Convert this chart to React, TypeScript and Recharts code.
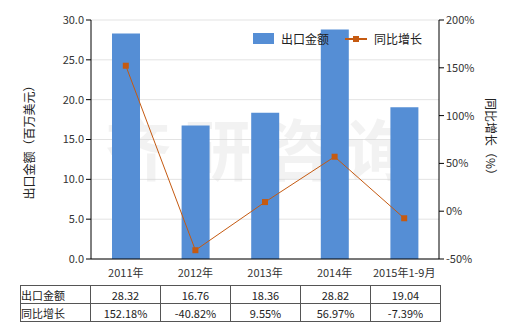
import React from "react";
import {
  ComposedChart,
  Bar,
  Line,
  XAxis,
  YAxis,
  CartesianGrid,
} from "recharts";

const categories = ["2011年", "2012年", "2013年", "2014年", "2015年1-9月"];
const exportValues = [28.32, 16.76, 18.36, 28.82, 19.04];
const growthValues = [152.18, -40.82, 9.55, 56.97, -7.39];
const leftTicks = [0, 5, 10, 15, 20, 25, 30];
const rightTicks = [-50, 0, 50, 100, 150, 200];

const BAR_COLOR = "#558ED5";
const LINE_COLOR = "#C55A11";
const FONT = "'Noto Sans CJK SC', 'Noto Sans', sans-serif";

const data = categories.map((name, i) => ({
  name,
  value: exportValues[i],
  growth: growthValues[i],
}));

function SquareDot(props: any) {
  const { cx, cy } = props;
  if (cx == null || cy == null) return null;
  return <rect x={cx - 3} y={cy - 3} width={6} height={6} fill={LINE_COLOR} />;
}

const tickStyle = { fill: "#333", fontSize: 11, fontFamily: FONT };

export default function App() {
  const cell: React.CSSProperties = {
    border: "1px solid #555",
    padding: 0,
    height: 17,
    fontSize: 11,
    fontFamily: FONT,
    color: "#222",
    textAlign: "center",
    width: 69,
  };
  return (
    <div
      style={{
        position: "absolute",
        left: 0,
        top: 0,
        width: 520,
        height: 330,
        background: "#fff",
        fontFamily: FONT,
      }}
    >
      <ComposedChart
        width={520}
        height={330}
        data={data}
        margin={{ top: 20, right: 0, bottom: 0, left: 0 }}
      >
        <CartesianGrid vertical={false} stroke="#E3E3E3" yAxisId="left" />
        <text
          x={265}
          y={175}
          textAnchor="middle"
          fontSize={66}
          fontWeight="bold"
          fontFamily={FONT}
          fill="#d6d6d6"
          opacity={0.3}
          letterSpacing={14}
        >
          齐研咨询
        </text>
        <XAxis
          dataKey="name"
          height={71}
          tick={{ ...tickStyle, dy: 2 }}
          axisLine={{ stroke: "#000" }}
          tickLine={false}
        />
        <YAxis
          yAxisId="left"
          orientation="left"
          width={91}
          domain={[0, 30]}
          ticks={leftTicks}
          tickFormatter={(v: number) => v.toFixed(1)}
          tick={tickStyle}
          tickSize={5}
          axisLine={{ stroke: "#000" }}
          tickLine={{ stroke: "#000" }}
          label={{
            value: "出口金额（百万美元）",
            angle: -90,
            position: "insideLeft",
            offset: 30,
            style: { fontSize: 12, fill: "#222", fontFamily: FONT, textAnchor: "middle" },
          }}
        />
        <YAxis
          yAxisId="right"
          orientation="right"
          width={81}
          domain={[-50, 200]}
          ticks={rightTicks}
          tickFormatter={(v: number) => `${v}%`}
          tick={tickStyle}
          tickSize={5}
          axisLine={{ stroke: "#000" }}
          tickLine={{ stroke: "#000" }}
          label={{
            value: "同比增长（%）",
            angle: 90,
            position: "insideRight",
            offset: 30,
            style: { fontSize: 12, fill: "#222", fontFamily: FONT, textAnchor: "middle" },
          }}
        />
        <Bar
          yAxisId="left"
          dataKey="value"
          fill={BAR_COLOR}
          barSize={28}
          isAnimationActive={false}
        />
        <Line
          yAxisId="right"
          dataKey="growth"
          stroke={LINE_COLOR}
          strokeWidth={1}
          dot={<SquareDot />}
          activeDot={false}
          isAnimationActive={false}
        />
      </ComposedChart>

      {/* legend */}
      <div
        style={{
          position: "absolute",
          left: 253,
          top: 30,
          display: "flex",
          alignItems: "center",
          fontSize: 12,
          color: "#222",
        }}
      >
        <span style={{ display: "inline-block", width: 21, height: 11, background: BAR_COLOR }} />
        <span style={{ marginLeft: 7 }}>出口金额</span>
        <svg width={24} height={12} style={{ marginLeft: 16 }}>
          <line x1={0} y1={6} x2={22} y2={6} stroke={LINE_COLOR} strokeWidth={2} />
          <rect x={8} y={3} width={6} height={6} fill={LINE_COLOR} />
        </svg>
        <span style={{ marginLeft: 5 }}>同比增长</span>
      </div>

      {/* data table */}
      <table
        style={{
          position: "absolute",
          left: 20,
          top: 285,
          borderCollapse: "collapse",
        }}
      >
        <tbody>
          <tr>
            <td style={{ ...cell, textAlign: "left" }}>出口金额</td>
            {exportValues.map((v, i) => (
              <td key={i} style={cell}>
                {v.toFixed(2)}
              </td>
            ))}
          </tr>
          <tr>
            <td style={{ ...cell, textAlign: "left" }}>同比增长</td>
            {growthValues.map((v, i) => (
              <td key={i} style={cell}>
                {v.toFixed(2)}%
              </td>
            ))}
          </tr>
        </tbody>
      </table>
    </div>
  );
}
